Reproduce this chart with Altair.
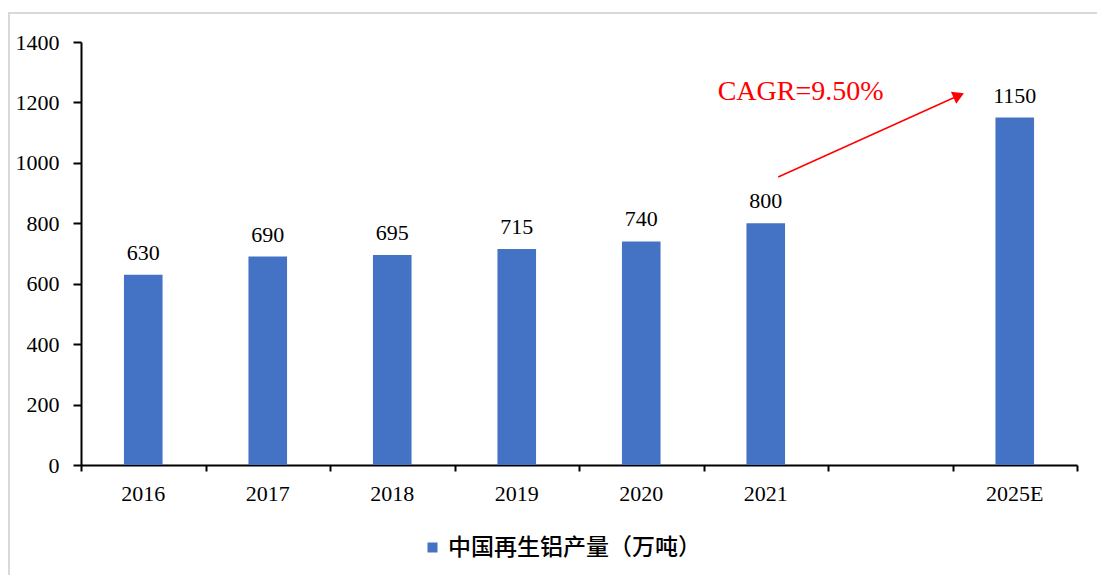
import altair as alt
import pandas as pd

# ---- data ----
categories = ["2016", "2017", "2018", "2019", "2020", "2021", " ", "2025E"]
bar_years = ["2016", "2017", "2018", "2019", "2020", "2021", "2025E"]
bar_values = [630, 690, 695, 715, 740, 800, 1150]
series_name = "中国再生铝产量（万吨）"
y_ticks = [0, 200, 400, 600, 800, 1000, 1200, 1400]
cagr_text = "CAGR=9.50%"
# annotation in data units (x: category index scale 0..8, y: value)
arrow_start = (5.60, 953)
arrow_end = (7.05, 1223)
cagr_pos = (5.78, 1208)

W, H = 996, 423
SERIF = "Liberation Serif"
BLUE = "#4472C4"

bars_df = pd.DataFrame({"year": bar_years, "value": bar_values, "series": series_name})

x_scale = alt.Scale(domain=categories, paddingInner=0.69, paddingOuter=0.345)
x_axis = alt.Axis(
    title=None, labelAngle=0, ticks=False, domain=True, domainColor="black",
    domainWidth=2, labelFont=SERIF, labelFontSize=22, labelColor="black",
    labelPadding=18, grid=False,
)
y_scale = alt.Scale(domain=[0, 1400], nice=False)
y_axis = alt.Axis(
    title=None, values=y_ticks, format="d", domainColor="black", domainWidth=2,
    tickColor="black", tickWidth=2, tickSize=8, labelFont=SERIF,
    labelFontSize=22, labelColor="black", labelPadding=14, grid=False,
)

bars = alt.Chart(bars_df).mark_bar(color=BLUE).encode(
    x=alt.X("year:N", scale=x_scale, axis=x_axis),
    y=alt.Y("value:Q", scale=y_scale, axis=y_axis),
    color=alt.Color(
        "series:N",
        scale=alt.Scale(range=[BLUE]),
        legend=alt.Legend(
            title=None, orient="none", legendX=340, legendY=494,
            symbolType="square", symbolSize=100, symbolStrokeWidth=0,
            labelFont="Noto Sans CJK SC", labelFontSize=23, labelFontWeight=500,
            labelColor="black", labelLimit=400,
        ),
    ),
)

labels = alt.Chart(bars_df).mark_text(
    font=SERIF, fontSize=22, color="black", baseline="alphabetic", dy=-15
).encode(
    x=alt.X("year:N", scale=x_scale, axis=None),
    y=alt.Y("value:Q", scale=y_scale),
    text="value:Q",
)

# quantitative x for category-boundary ticks and the CAGR annotation
tick_idx = list(range(len(categories) + 1))
xq_scale = alt.Scale(domain=[0, len(categories)], nice=False, zero=False)
xq_axis = alt.Axis(
    title=None, values=tick_idx, labels=False, domain=False, ticks=True,
    tickColor="black", tickWidth=2, tickSize=6, grid=False, orient="bottom",
)
ann_df = pd.DataFrame({
    "x": [arrow_start[0]], "y": [arrow_start[1]],
    "x2": [arrow_end[0]], "y2": [arrow_end[1]],
})
arrow_line = alt.Chart(ann_df).mark_rule(color="#FF0000", strokeWidth=1.5).encode(
    x=alt.X("x:Q", scale=xq_scale, axis=xq_axis),
    y=alt.Y("y:Q", scale=y_scale),
    x2="x2:Q",
    y2="y2:Q",
)
head_df = pd.DataFrame({"x": [arrow_end[0]], "y": [arrow_end[1]]})
arrow_head = alt.Chart(head_df).mark_point(
    shape="triangle-up", filled=True, color="#FF0000", size=170, angle=66, opacity=1
).encode(
    x=alt.X("x:Q", scale=xq_scale, axis=None),
    y=alt.Y("y:Q", scale=y_scale),
)
text_df = pd.DataFrame({"x": [cagr_pos[0]], "y": [cagr_pos[1]], "t": [cagr_text]})
cagr = alt.Chart(text_df).mark_text(
    font=SERIF, fontSize=28, color="#FF0000", baseline="alphabetic", align="center"
).encode(
    x=alt.X("x:Q", scale=xq_scale, axis=None),
    y=alt.Y("y:Q", scale=y_scale),
    text="t:N",
)

frame = alt.Chart(pd.DataFrame({"a": [0]})).mark_rect(
    fill=None, stroke="#D9D9D9", strokeWidth=2
).encode(
    x=alt.value(-72), x2=alt.value(W + 200), y=alt.value(-29), y2=alt.value(H + 300)
)

chart = alt.layer(frame, bars, labels, arrow_line, arrow_head, cagr).resolve_scale(
    x="independent"
).resolve_axis(y="shared").properties(
    width=W, height=H,
    autosize=alt.AutoSizeParams(type="none"),
    padding={"left": 73, "top": 34, "right": 20, "bottom": 110},
    background="white",
).configure(font=SERIF).configure_view(stroke=None).configure_axis(
    labelFont=SERIF, labelFontSize=22, labelColor="black"
)

chart.save("out.html", embed_options={"renderer": "svg", "actions": False})
